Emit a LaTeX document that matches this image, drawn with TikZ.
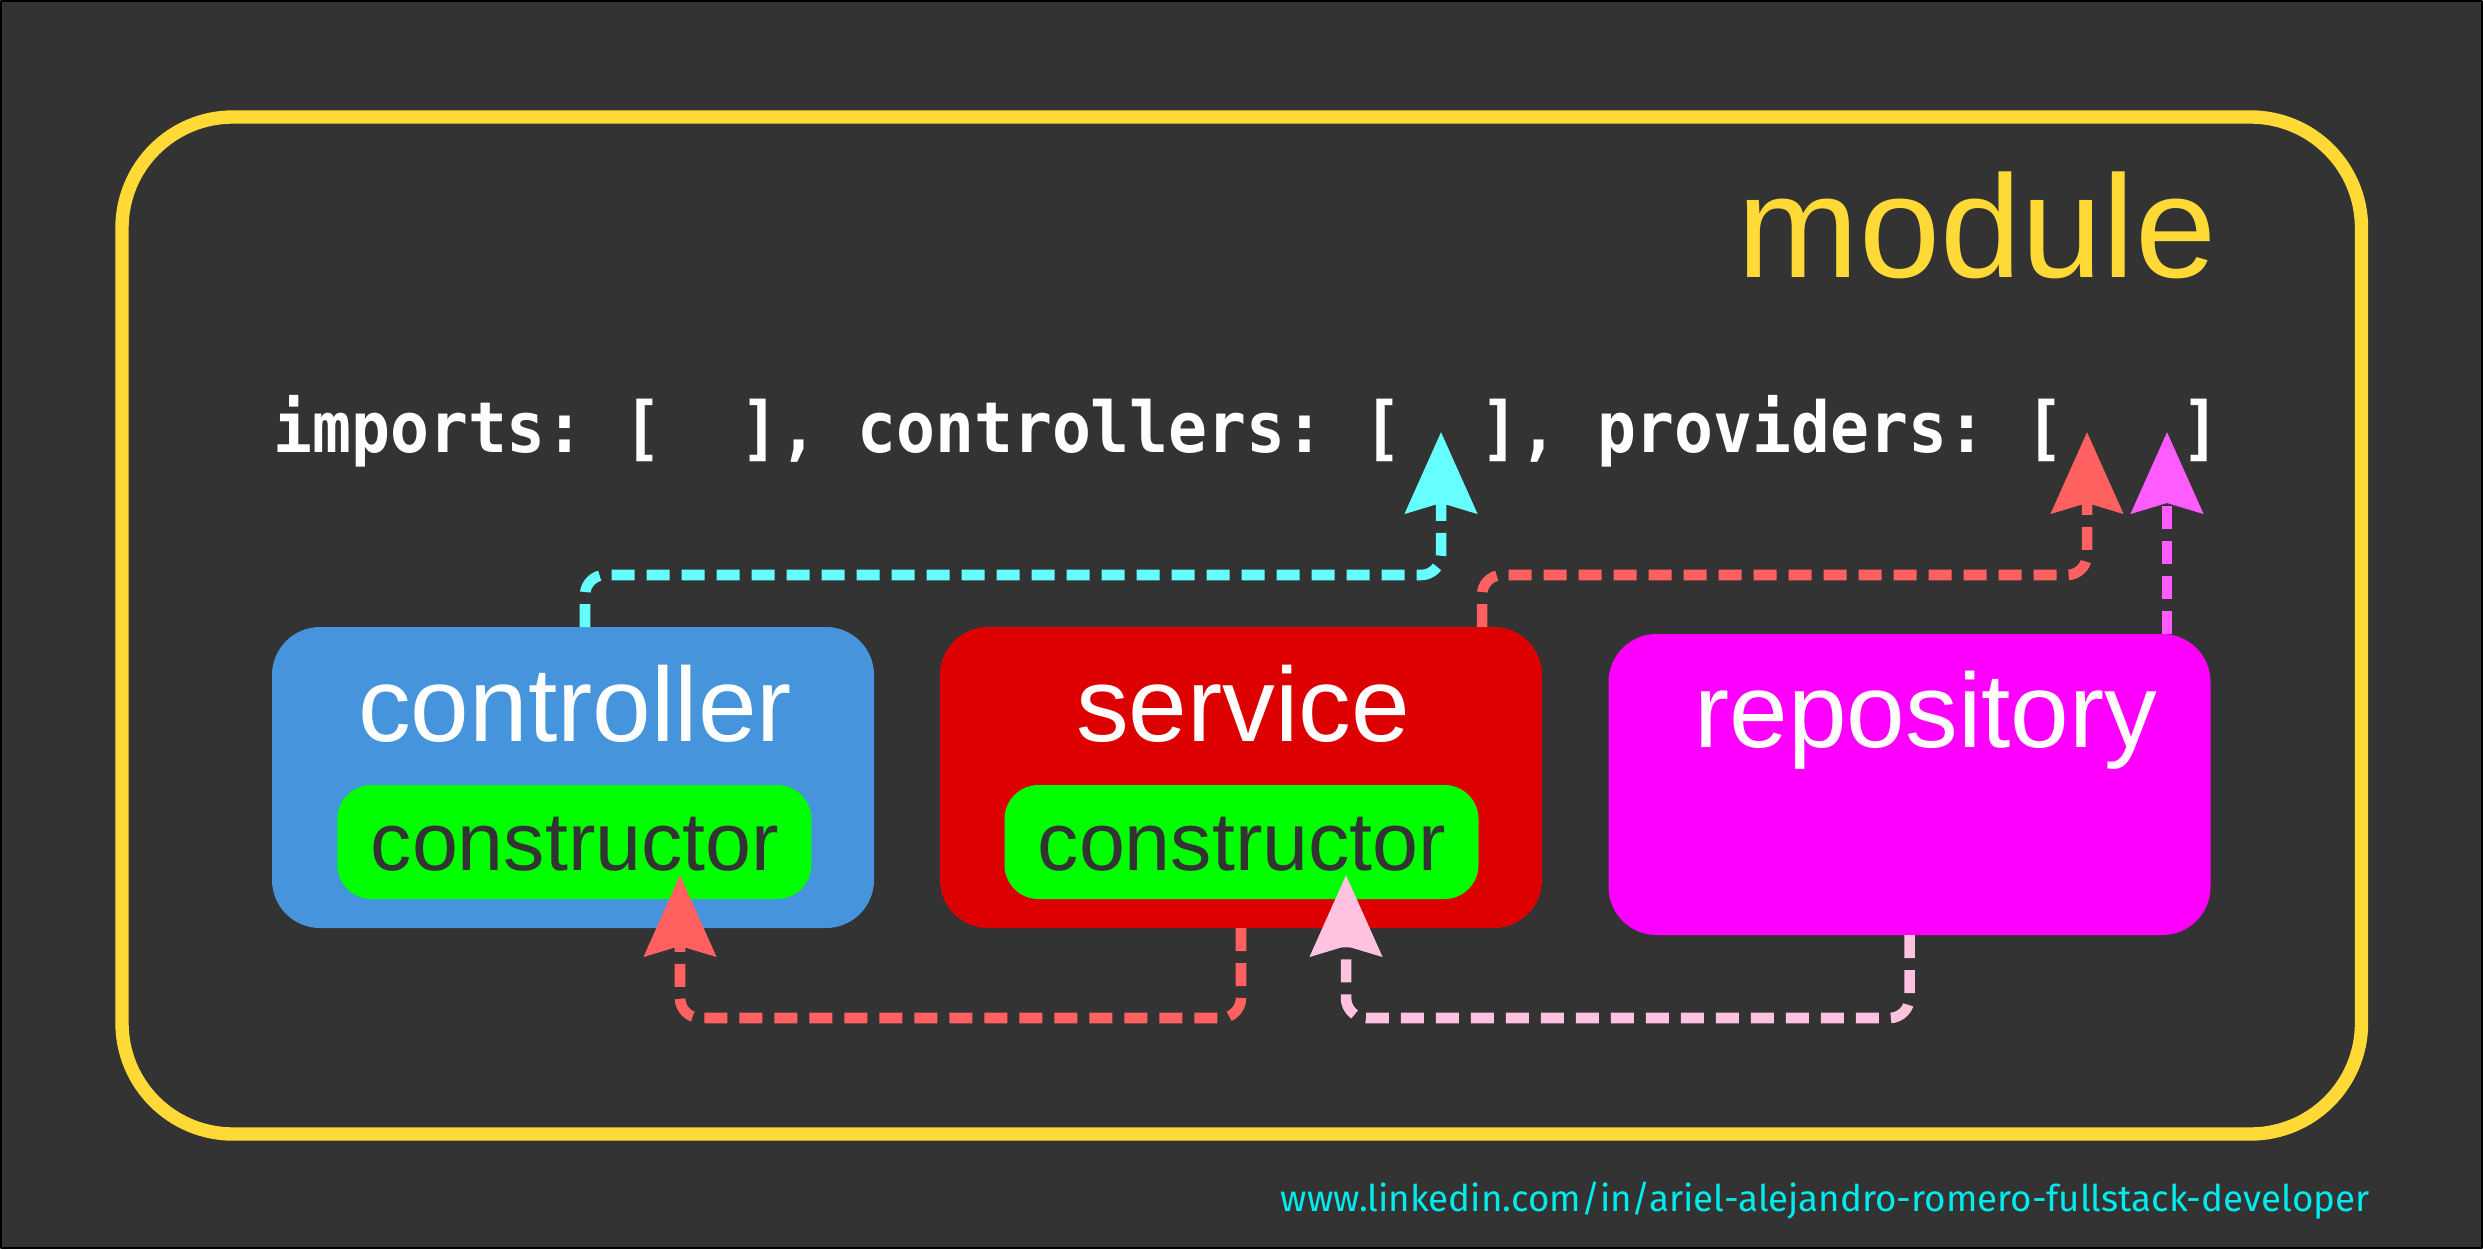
\documentclass[tikz,border=0pt]{standalone}
\usepackage{fontspec}
\setmainfont{Liberation Sans}
\newfontfamily\codefont[FakeStretch=0.92]{DejaVu Sans Mono}
\newfontfamily\linkfont{Fira Sans}
\usetikzlibrary{arrows.meta}
\definecolor{backdrop}{RGB}{51,51,51}
\definecolor{moduleY}{RGB}{255,217,54}
\definecolor{ctrlBlue}{RGB}{70,148,220}
\definecolor{servRed}{RGB}{221,0,0}
\definecolor{repoPink}{RGB}{255,0,255}
\definecolor{ctorGreen}{RGB}{0,255,0}
\definecolor{ctorText}{RGB}{51,51,51}
\definecolor{linkCyan}{RGB}{102,255,255}
\definecolor{linkRed}{RGB}{255,97,97}
\definecolor{linkMagenta}{RGB}{255,92,255}
\definecolor{linkPink}{RGB}{255,194,224}
\definecolor{urlCyan}{RGB}{0,235,235}
\tikzset{classbox/.style={rectangle,rounded corners=4.8mm,inner sep=0pt,outer sep=0pt,minimum width=6.02cm,minimum height=3.01cm},
 ctorbox/.style={rectangle,rounded corners=3.4mm,fill=ctorGreen,inner sep=0pt,outer sep=0pt,minimum width=4.74cm,minimum height=1.14cm},
 classlabel/.style={anchor=base,text=white,font=\fontsize{30}{36}\selectfont,inner sep=0pt},
 ctorlabel/.style={anchor=base,text=ctorText,font=\fontsize{23.5}{28}\selectfont,inner sep=0pt},
 inject/.style={line width=3pt,dash pattern=on 0.23cm off 0.12cm,rounded corners=2mm,-{Stealth[length=8.1mm,width=7.1mm,inset=1mm]}},
 every picture/.style={line join=round}}
\begin{document}
\begin{tikzpicture}
\draw[fill=backdrop,draw=black,line width=0.5pt] (0.009,0.009) rectangle (24.821,12.481);
\useasboundingbox (0,0) rectangle (24.83,12.49);
\draw[moduleY,line width=3.8pt,rounded corners=11.1mm] (1.220,1.150) rectangle (23.615,11.320);
\node[anchor=base east,text=moduleY,font=\fontsize{41.5}{50}\selectfont,inner sep=0pt] (modtitle) at (22.170,9.713) {module};
\node[anchor=base west,text=white,font=\codefont\bfseries\fontsize{20}{24}\selectfont,inner sep=0pt] (decorator) at (2.727,7.963) {imports:\ [\ \ ],\ controllers:\ [\ \ ],\ providers:\ [\ \ \ ]};
\node[classbox,fill=ctrlBlue] (ctrl) at (5.730,4.715) {};
\node[classbox,fill=servRed] (serv) at (12.410,4.715) {};
\node[classbox,fill=repoPink] (repo) at (19.095,4.645) {};
\node[ctorbox] (ctrlctor) at (5.743,4.070) {};
\node[ctorbox] (servctor) at (12.415,4.070) {};
\node[classlabel] (ctrllabel) at (5.750,5.080) {controller};
\node[classlabel] (servlabel) at (12.430,5.080) {service};
\node[classlabel] (repolabel) at (19.260,5.020) {repository};
\node[ctorlabel] (ctrlctorlabel) at (5.750,3.783) {constructor};
\node[ctorlabel] (servctorlabel) at (12.420,3.783) {constructor};
\coordinate (ctrlslot) at (14.410,8.170);
\coordinate (provslot) at (20.870,8.170);
\coordinate (reposlot) at (21.670,8.170);
\coordinate (ctrlinject) at (6.800,3.740);
\coordinate (servinject) at (13.460,3.740);
\coordinate (topbus) at (0,6.740);
\coordinate (lowbus) at (0,2.310);
\draw[inject,linkCyan] ([xshift=1.2mm]ctrl.north) |- (topbus -| ctrlslot) -- (ctrlslot);
\draw[inject,linkRed] ([xshift=-6mm]serv.north east) |- (topbus -| provslot) -- (provslot);
\draw[inject,linkMagenta] (repo.north -| reposlot) -- (reposlot);
\draw[inject,linkRed] (serv.south) |- (lowbus -| ctrlinject) -- (ctrlinject);
\draw[inject,linkPink] (repo.south) |- (lowbus -| servinject) -- (servinject);
\node[anchor=base west,text=urlCyan,font=\linkfont\fontsize{10.45}{12}\selectfont,inner sep=0pt] (url) at (12.800,0.373) {www.linkedin.com/in/ariel-alejandro-romero-fullstack-developer};
\end{tikzpicture}
\end{document}
